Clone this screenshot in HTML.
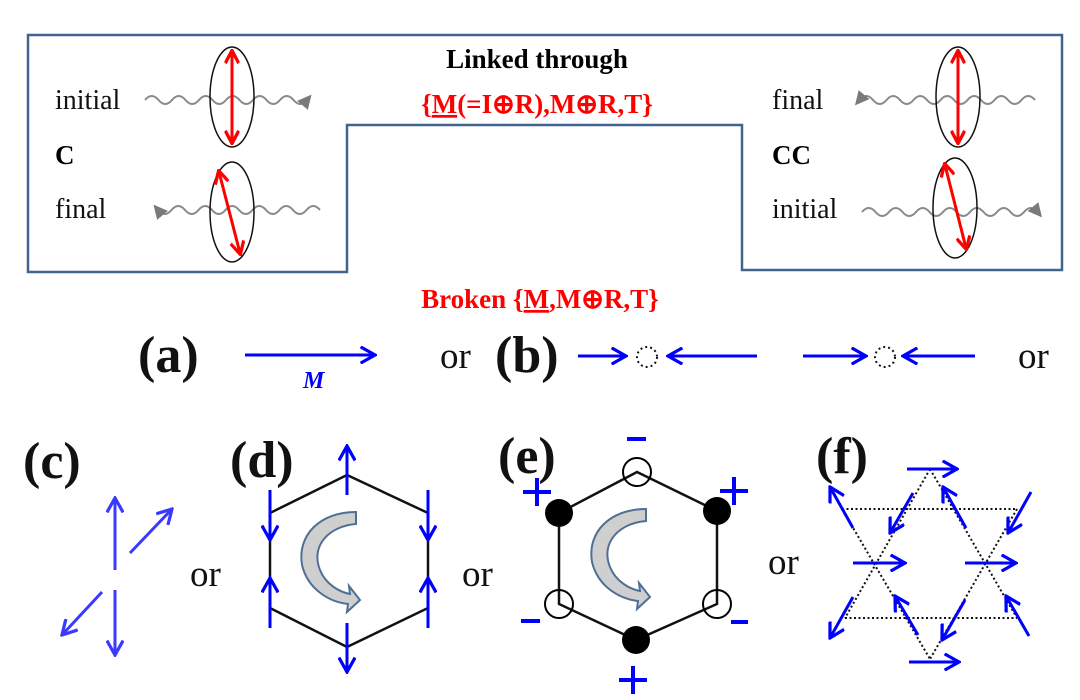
<!DOCTYPE html>
<html><head><meta charset="utf-8"><style>
html,body{margin:0;padding:0;background:#fff;}
svg{display:block;}
text{font-family:"Liberation Serif",serif;}
</style></head><body>
<svg width="1080" height="700" viewBox="0 0 1080 700" xmlns="http://www.w3.org/2000/svg">
<defs>
<marker id="ar" viewBox="0 0 10 10" refX="8" refY="5" markerWidth="5" markerHeight="5" orient="auto-start-reverse"><path d="M0.5,0.5 L9,5 L0.5,9.5" fill="none" stroke="#ff0000" stroke-width="2.2"/></marker>
<marker id="bl" viewBox="0 0 10 10" refX="9" refY="5" markerWidth="6" markerHeight="6" orient="auto"><path d="M1,0.5 L9,5 L1,9.5" fill="none" stroke="#0000ff" stroke-width="1.8"/></marker>
<marker id="lb" viewBox="0 0 10 10" refX="9" refY="5" markerWidth="6" markerHeight="6" orient="auto"><path d="M1,0.5 L9,5 L1,9.5" fill="none" stroke="#3a3aff" stroke-width="1.8"/></marker>
<marker id="gr" viewBox="0 0 10 10" refX="5" refY="5" markerWidth="7" markerHeight="7" orient="auto"><path d="M0,0 L10,5 L0,10 Z" fill="#7a7a7a"/></marker>
</defs>

<path d="M28,35 L1062,35 L1062,270 L742,270 L742,125 L347,125 L347,272 L28,272 Z" fill="none" stroke="#41648f" stroke-width="2.5"/>

<g fill="none" stroke="#8a8a8a" stroke-width="2">
<path d="M145,100 q6.75,-8 13.5,0 t13.5,0 t13.5,0 t13.5,0 t13.5,0 t13.5,0 t13.5,0 t13.5,0 t13.5,0 t13.5,0 t13.5,0 t13.5,0" marker-end="url(#gr)"/>
<path d="M320,210 q-6.75,-8 -13.5,0 t-13.5,0 t-13.5,0 t-13.5,0 t-13.5,0 t-13.5,0 t-13.5,0 t-13.5,0 t-13.5,0 t-13.5,0 t-13.5,0 t-13.5,0" marker-end="url(#gr)"/>
<path d="M1035,100 q-6.75,-8 -13.5,0 t-13.5,0 t-13.5,0 t-13.5,0 t-13.5,0 t-13.5,0 t-13.5,0 t-13.5,0 t-13.5,0 t-13.5,0 t-13.5,0 t-13.5,0 t-13.5,0" marker-end="url(#gr)"/>
<path d="M862,212 q6.75,-8 13.5,0 t13.5,0 t13.5,0 t13.5,0 t13.5,0 t13.5,0 t13.5,0 t13.5,0 t13.5,0 t13.5,0 t13.5,0 t13.5,0 t13.5,0" marker-end="url(#gr)"/>
</g>
<g fill="none" stroke="#111" stroke-width="1.5">
<ellipse cx="232" cy="97" rx="22" ry="50"/>
<ellipse cx="232" cy="212" rx="22" ry="50"/>
<ellipse cx="958" cy="97" rx="22" ry="50"/>
<ellipse cx="955" cy="208" rx="22" ry="50"/>
</g>
<g stroke="#ff0000" stroke-width="3" fill="none">
<line x1="232" y1="52" x2="232" y2="142" marker-start="url(#ar)" marker-end="url(#ar)"/>
<line x1="219" y1="172" x2="240" y2="253" marker-start="url(#ar)" marker-end="url(#ar)"/>
<line x1="958" y1="52" x2="958" y2="142" marker-start="url(#ar)" marker-end="url(#ar)"/>
<line x1="945" y1="165" x2="966" y2="248" marker-start="url(#ar)" marker-end="url(#ar)"/>
</g>

<g font-size="28" fill="#111">
<text x="55" y="109">initial</text>
<text x="55" y="218">final</text>
<text x="772" y="109">final</text>
<text x="772" y="218">initial</text>
</g>
<text x="55" y="164" font-size="27" font-weight="bold">C</text>
<text x="772" y="164" font-size="27" font-weight="bold">CC</text>
<text x="537" y="68" font-size="27" font-weight="bold" text-anchor="middle">Linked through</text>
<text x="537" y="113" font-size="27" font-weight="bold" text-anchor="middle" fill="#ff0000">{<tspan text-decoration="underline">M</tspan>(=I⊕R),M⊕R,T}</text>
<text x="540" y="308" font-size="27" font-weight="bold" text-anchor="middle" fill="#ff0000">Broken {<tspan text-decoration="underline">M</tspan>,M⊕R,T}</text>

<g font-size="52" font-weight="bold" fill="#111">
<text x="138" y="372">(a)</text>
<text x="495" y="372">(b)</text>
<text x="23" y="478">(c)</text>
<text x="230" y="477">(d)</text>
<text x="498" y="473">(e)</text>
<text x="816" y="473">(f)</text>
</g>
<g font-size="37" fill="#111">
<text x="440" y="368">or</text>
<text x="1018" y="368">or</text>
<text x="190" y="586">or</text>
<text x="462" y="586">or</text>
<text x="768" y="574">or</text>
</g>

<line x1="245" y1="355" x2="375" y2="355" stroke="#0000ff" stroke-width="3" marker-end="url(#bl)"/>
<text x="303" y="388" font-size="24" font-style="italic" font-weight="bold" fill="#0000ff">M</text>
<g stroke="#0000ff" stroke-width="3">
<line x1="578" y1="356" x2="626" y2="356" marker-end="url(#bl)"/>
<line x1="757" y1="356" x2="668" y2="356" marker-end="url(#bl)"/>
<line x1="803" y1="356" x2="866" y2="356" marker-end="url(#bl)"/>
<line x1="975" y1="356" x2="903" y2="356" marker-end="url(#bl)"/>
</g>
<circle cx="647" cy="357" r="10" fill="none" stroke="#111" stroke-width="2" stroke-dasharray="2,3"/>
<circle cx="885" cy="357" r="10" fill="none" stroke="#111" stroke-width="2" stroke-dasharray="2,3"/>

<g stroke="#3a3aff" stroke-width="3">
<line x1="115" y1="570" x2="115" y2="498" marker-end="url(#lb)"/>
<line x1="130" y1="553" x2="172" y2="509" marker-end="url(#lb)"/>
<line x1="102" y1="592" x2="62" y2="635" marker-end="url(#lb)"/>
<line x1="115" y1="590" x2="115" y2="655" marker-end="url(#lb)"/>
</g>

<polygon points="347,475 428,513 428,608 347,647 270,608 270,513" fill="none" stroke="#111" stroke-width="2.5"/>
<g stroke="#0000ff" stroke-width="3">
<line x1="347" y1="495" x2="347" y2="446" marker-end="url(#bl)"/>
<line x1="347" y1="623" x2="347" y2="672" marker-end="url(#bl)"/>
<line x1="270" y1="490" x2="270" y2="540" marker-end="url(#bl)"/>
<line x1="270" y1="628" x2="270" y2="578" marker-end="url(#bl)"/>
<line x1="428" y1="490" x2="428" y2="540" marker-end="url(#bl)"/>
<line x1="428" y1="628" x2="428" y2="578" marker-end="url(#bl)"/>
</g>
<path d="M356,512 L356,524 C330,526 310,545 320,570 C326,585 340,592 350,594 L349,586 L360,600 L347,612 L348,604 C330,602 308,590 302,565 C297,535 320,512 356,512 Z" fill="#cfcfcf" stroke="#4f6f94" stroke-width="2"/>

<polygon points="637,472 717,511 717,604 636,640 559,604 559,513" fill="none" stroke="#111" stroke-width="2.5"/>
<path transform="translate(290,-3)" d="M356,512 L356,524 C330,526 310,545 320,570 C326,585 340,592 350,594 L349,586 L360,600 L347,612 L348,604 C330,602 308,590 302,565 C297,535 320,512 356,512 Z" fill="#cfcfcf" stroke="#4f6f94" stroke-width="2"/>
<circle cx="559" cy="513" r="14" fill="#000"/>
<circle cx="717" cy="511" r="14" fill="#000"/>
<circle cx="636" cy="640" r="14" fill="#000"/>
<circle cx="637" cy="472" r="14" fill="none" stroke="#000" stroke-width="2"/>
<circle cx="559" cy="604" r="14" fill="none" stroke="#000" stroke-width="2"/>
<circle cx="717" cy="604" r="14" fill="none" stroke="#000" stroke-width="2"/>
<g stroke="#0000ff" stroke-width="4">
<line x1="627" y1="439" x2="646" y2="439"/>
<line x1="521" y1="621" x2="540" y2="621"/>
<line x1="731" y1="622" x2="748" y2="622"/>
<line x1="523" y1="492" x2="551" y2="492"/><line x1="537" y1="478" x2="537" y2="506"/>
<line x1="720" y1="491" x2="748" y2="491"/><line x1="734" y1="477" x2="734" y2="505"/>
<line x1="619" y1="680" x2="647" y2="680"/><line x1="633" y1="666" x2="633" y2="694"/>
</g>

<g stroke="#111" stroke-width="2" stroke-dasharray="2,2.5" fill="none">
<line x1="842" y1="509" x2="1017" y2="509"/>
<line x1="845" y1="618" x2="1017" y2="618"/>
<line x1="930" y1="469" x2="845" y2="618"/>
<line x1="930" y1="469" x2="1017" y2="618"/>
<line x1="842" y1="509" x2="930" y2="659"/>
<line x1="1017" y1="509" x2="930" y2="659"/>
</g>
<g stroke="#0000ff" stroke-width="3">
<line x1="907" y1="469" x2="957" y2="469" marker-end="url(#bl)"/>
<line x1="853" y1="528" x2="830" y2="487" marker-end="url(#bl)"/>
<line x1="913" y1="493" x2="890" y2="533" marker-end="url(#bl)"/>
<line x1="966" y1="528" x2="943" y2="487" marker-end="url(#bl)"/>
<line x1="1031" y1="492" x2="1008" y2="533" marker-end="url(#bl)"/>
<line x1="853" y1="563" x2="905" y2="563" marker-end="url(#bl)"/>
<line x1="965" y1="563" x2="1016" y2="563" marker-end="url(#bl)"/>
<line x1="853" y1="597" x2="830" y2="638" marker-end="url(#bl)"/>
<line x1="918" y1="635" x2="895" y2="596" marker-end="url(#bl)"/>
<line x1="965" y1="600" x2="942" y2="640" marker-end="url(#bl)"/>
<line x1="1029" y1="636" x2="1006" y2="596" marker-end="url(#bl)"/>
<line x1="909" y1="662" x2="959" y2="662" marker-end="url(#bl)"/>
</g>
</svg>
</body></html>
